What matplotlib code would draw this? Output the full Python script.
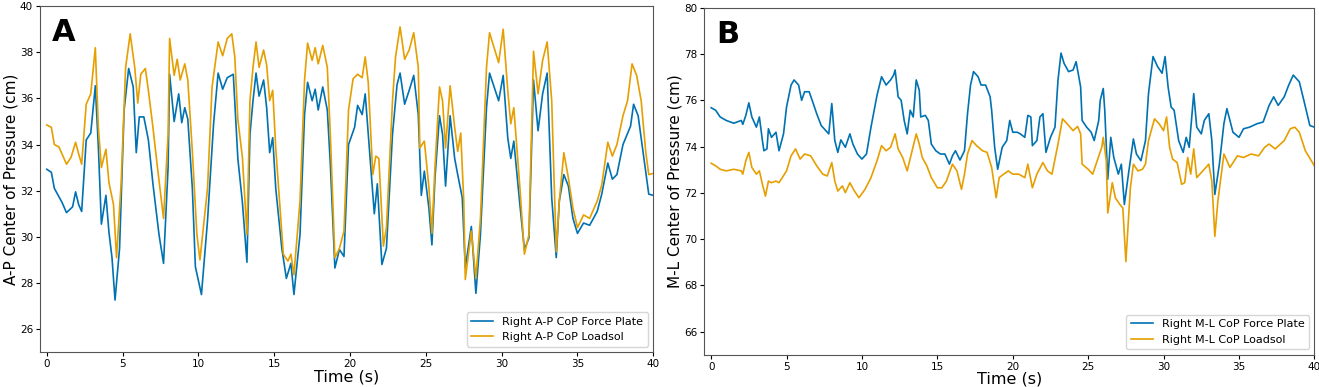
import matplotlib.pyplot as plt

# Panel A: anterior-posterior CoP (cm)
t_ap_fp = [0, 0.3, 0.5, 1, 1.3, 1.7, 1.9, 2.1, 2.3, 2.6, 2.9, 3.2, 3.4, 3.6, 3.9, 4.1, 4.3, 4.5, 4.8,
           5.1, 5.4, 5.7, 5.9, 6.1, 6.4, 6.7, 7.0, 7.4, 7.7, 8.0, 8.1, 8.4, 8.7, 8.9, 9.1, 9.3, 9.6,
           9.8, 10.2, 10.6, 11.0, 11.3, 11.6, 11.9, 12.3, 12.6, 12.9, 13.2, 13.4, 13.6, 13.8, 14.0,
           14.3, 14.5, 14.7, 14.9, 15.1, 15.5, 15.8, 16.1, 16.3, 16.7, 17.0, 17.2, 17.5, 17.7, 17.9,
           18.2, 18.5, 18.7, 19.0, 19.3, 19.6, 19.9, 20.3, 20.5, 20.8, 21.0, 21.3, 21.6, 21.8, 22.1,
           22.4, 22.8, 23.1, 23.3, 23.6, 23.9, 24.2, 24.5, 24.7, 24.9, 25.2, 25.4, 25.6, 25.9, 26.1,
           26.3, 26.6, 26.9, 27.1, 27.4, 27.6, 28.0, 28.3, 28.6, 29.0, 29.2, 29.5, 29.8, 30.1, 30.4,
           30.6, 30.8, 31.2, 31.5, 31.8, 32.1, 32.4, 32.7, 33.0, 33.3, 33.6, 33.8, 34.1, 34.4, 34.7,
           35.0, 35.4, 35.8, 36.3, 36.6, 37.0, 37.3, 37.6, 38.0, 38.5, 38.7, 39.0, 39.4, 39.7, 40]
ap_fp = [32.93, 32.8, 32.1, 31.5, 31.05, 31.3, 31.95, 31.4, 31.1, 34.2, 34.5, 36.55, 33.9, 30.55,
         31.8, 30.2, 29.1, 27.26, 29.5, 35.5, 37.3, 36.5, 33.65, 35.2, 35.2, 34.2, 32.3, 30.1, 28.85,
         33.0, 37.05, 35.0, 36.2, 34.95, 35.6, 35.1, 32.1, 28.7, 27.5, 30.7, 34.9, 37.1, 36.4, 36.9,
         37.05, 33.4, 31.5, 28.9, 34.45, 35.9, 37.1, 36.1, 36.8, 35.6, 33.65, 34.3, 32.1, 29.5, 28.2,
         28.85, 27.5, 30.1, 35.3, 36.7, 35.9, 36.4, 35.5, 36.5, 35.5, 33.15, 28.65, 29.45, 29.15,
         34.0, 34.75, 35.7, 35.3, 36.2, 33.6, 31.0, 32.3, 28.8, 29.5, 34.45, 36.6, 37.1, 35.75, 36.35,
         37.0, 35.3, 31.8, 32.85, 31.25, 29.65, 32.55, 35.25, 34.45, 32.2, 35.25, 33.4, 32.7, 31.7,
         28.65, 30.45, 27.55, 30.1, 35.6, 37.1, 36.5, 35.9, 37.0, 34.3, 33.4, 34.15, 31.4, 29.45,
         29.95, 36.8, 34.6, 36.2, 37.1, 31.7, 29.1, 31.55, 32.7, 32.2, 30.8, 30.15, 30.6, 30.5, 31.1,
         31.85, 33.2, 32.5, 32.7, 34.0, 34.8, 35.75, 35.25, 33.3, 31.85, 31.8]

t_ap_ls = [0, 0.3, 0.5, 0.8, 1.0, 1.3, 1.6, 1.9, 2.1, 2.3, 2.6, 2.9, 3.2, 3.4, 3.6, 3.9, 4.1, 4.4, 4.6,
           4.9, 5.2, 5.5, 5.8, 6.0, 6.2, 6.5, 6.7, 7.0, 7.3, 7.7, 8.0, 8.1, 8.4, 8.6, 8.8, 9.1, 9.3,
           9.6, 9.9, 10.1, 10.6, 10.9, 11.3, 11.6, 11.9, 12.2, 12.4, 12.6, 12.9, 13.2, 13.4, 13.6,
           13.8, 14.0, 14.3, 14.5, 14.7, 14.9, 15.1, 15.6, 15.9, 16.1, 16.3, 16.7, 17.0, 17.2, 17.5,
           17.7, 17.9, 18.2, 18.5, 18.7, 19.0, 19.3, 19.6, 19.9, 20.2, 20.5, 20.8, 21.0, 21.2, 21.5,
           21.7, 21.9, 22.2, 22.4, 22.8, 23.0, 23.3, 23.6, 23.9, 24.2, 24.5, 24.6, 24.9, 25.2, 25.4,
           25.6, 25.9, 26.1, 26.3, 26.6, 26.9, 27.1, 27.3, 27.5, 27.6, 28.0, 28.3, 28.6, 29.0, 29.2,
           29.5, 29.8, 30.1, 30.4, 30.6, 30.8, 31.2, 31.5, 31.8, 32.1, 32.4, 32.7, 33.0, 33.3, 33.6,
           33.8, 34.1, 34.4, 34.7, 35.0, 35.4, 35.8, 36.3, 36.6, 37.0, 37.3, 37.6, 38.0, 38.3, 38.6,
           38.9, 39.2, 39.5, 39.7, 40]
ap_ls = [34.85, 34.75, 34.0, 33.9, 33.6, 33.15, 33.45, 34.1, 33.6, 33.15, 35.75, 36.2, 38.2, 34.75,
         33.0, 33.8, 32.35, 31.4, 29.1, 32.3, 37.35, 38.8, 37.35, 35.8, 37.05, 37.3, 36.35, 34.75,
         33.0, 30.8, 34.45, 38.6, 37.0, 37.7, 36.8, 37.5, 36.8, 33.7, 30.1, 29.0, 32.1, 36.5, 38.45,
         37.85, 38.6, 38.8, 37.8, 35.1, 33.45, 30.1, 35.9, 37.35, 38.45, 37.35, 38.1, 37.45, 35.9,
         36.35, 33.85, 29.25, 28.95, 29.25, 28.35, 31.55, 36.8, 38.4, 37.65, 38.2, 37.5, 38.3, 37.35,
         34.45, 29.1, 29.5, 30.25, 35.5, 36.85, 37.05, 36.9, 37.8, 36.7, 32.7, 33.5, 33.4, 29.6, 30.4,
         35.9, 37.8, 39.1, 37.7, 38.1, 38.85, 37.35, 33.85, 34.15, 32.15, 30.15, 33.0, 36.5, 35.9,
         33.85, 36.55, 34.75, 33.7, 34.5, 31.55, 28.15, 30.25, 28.2, 30.8, 37.35, 38.85, 38.2, 37.55,
         39.0, 36.35, 34.9, 35.6, 32.15, 29.25, 30.1, 38.05, 36.2, 37.65, 38.45, 35.9, 29.35, 31.55,
         33.65, 32.55, 31.25, 30.4, 30.95, 30.8, 31.55, 32.25, 34.1, 33.5, 34.0, 35.25, 35.9, 37.5,
         37.0, 35.9, 33.7, 32.7, 32.75]

# Panel B: medial-lateral CoP (cm)
t_ml_fp = [0, 0.3, 0.6, 1.0, 1.5, 2.0, 2.1, 2.3, 2.5, 2.7, 3.0, 3.2, 3.4, 3.5, 3.7, 3.8, 4.0, 4.3, 4.5,
           4.8, 5.0, 5.3, 5.5, 5.8, 6.0, 6.2, 6.5, 6.7, 7.0, 7.3, 7.6, 7.8, 8.0, 8.2, 8.4, 8.6, 8.9,
           9.2, 9.4, 9.7, 10.0, 10.3, 10.6, 11.0, 11.3, 11.6, 11.9, 12.1, 12.2, 12.4, 12.6, 12.8, 13.0,
           13.2, 13.4, 13.6, 13.8, 13.9, 14.2, 14.4, 14.6, 14.9, 15.2, 15.5, 15.8, 16.0, 16.2, 16.5,
           16.8, 17.0, 17.2, 17.4, 17.7, 17.9, 18.2, 18.5, 18.6, 18.8, 19.0, 19.3, 19.6, 19.8, 20.0,
           20.3, 20.5, 20.8, 21.0, 21.2, 21.3, 21.6, 21.8, 22.0, 22.2, 22.5, 22.8, 23.0, 23.2, 23.4,
           23.7, 24.0, 24.2, 24.5, 24.6, 24.9, 25.2, 25.4, 25.7, 25.8, 26.0, 26.1, 26.3, 26.5, 26.7,
           27.0, 27.2, 27.4, 27.7, 28.0, 28.2, 28.5, 28.8, 29.0, 29.3, 29.6, 29.9, 30.1, 30.3, 30.5,
           30.7, 31.0, 31.3, 31.5, 31.7, 32.0, 32.2, 32.5, 32.7, 33.0, 33.2, 33.4, 33.7, 34.0, 34.2,
           34.6, 35.0, 35.3, 35.7, 36.2, 36.6, 37.0, 37.3, 37.6, 38.0, 38.3, 38.6, 39.0, 39.3, 39.7, 40]
ml_fp = [75.68, 75.57, 75.28, 75.13, 75.01, 75.13, 74.96, 75.35, 75.89, 75.28, 74.84, 75.28, 74.26,
         73.82, 73.9, 74.77, 74.4, 74.62, 73.82, 74.55, 75.71, 76.66, 76.88, 76.66, 76.0, 76.37,
         76.37, 76.0, 75.42, 74.91, 74.69, 74.55, 75.86, 74.26, 73.75, 74.29, 73.97, 74.55, 74.11,
         73.68, 73.46, 73.68, 74.84, 76.22, 77.02, 76.66, 76.88, 77.09, 77.31, 76.15, 76.0, 75.13,
         74.55, 75.57, 75.28, 76.88, 76.44, 75.28, 75.35, 75.13, 74.11, 73.82, 73.68, 73.68, 73.24,
         73.6, 73.82, 73.42, 73.82, 75.42, 76.66, 77.24, 77.02, 76.66, 76.66, 76.15, 75.57, 73.97,
         73.02, 73.97, 74.26, 75.13, 74.62, 74.62, 74.55, 74.4, 75.35, 75.28, 74.04, 74.26, 75.28,
         75.42, 73.75, 74.4, 74.84, 76.88, 78.04, 77.6, 77.24, 77.31, 77.67, 76.58, 75.13, 74.84,
         74.62, 74.26, 75.13, 76.0, 76.51, 75.57, 72.59, 74.4, 73.53, 72.81, 73.24, 71.5, 72.95,
         74.33, 73.68, 73.39, 74.26, 76.29, 77.89, 77.46, 77.17, 77.89, 76.58, 75.71, 75.57, 74.26,
         73.75, 74.4, 73.97, 76.29, 74.84, 74.55, 75.13, 75.42, 74.26, 71.93, 73.24, 74.99, 75.64,
         74.62, 74.4, 74.77, 74.84, 74.99, 75.06, 75.78, 76.15, 75.78, 76.15, 76.66, 77.09, 76.8,
         76.0, 74.91, 74.84]

t_ml_ls = [0, 0.3, 0.6, 1.0, 1.5, 2.0, 2.1, 2.3, 2.5, 2.7, 3.0, 3.2, 3.4, 3.6, 3.8, 4.0, 4.3, 4.5, 5.0,
           5.3, 5.6, 5.9, 6.2, 6.6, 7.0, 7.4, 7.7, 8.0, 8.2, 8.4, 8.7, 8.9, 9.2, 9.5, 9.8, 10.2, 10.6,
           11.0, 11.3, 11.6, 11.9, 12.2, 12.4, 12.7, 13.0, 13.3, 13.6, 13.8, 14.0, 14.3, 14.6, 15.0,
           15.3, 15.6, 16.0, 16.3, 16.6, 16.8, 17.0, 17.3, 17.6, 18.0, 18.3, 18.6, 18.9, 19.1, 19.4,
           19.7, 20.0, 20.4, 20.8, 21.0, 21.3, 21.6, 22.0, 22.3, 22.6, 23.0, 23.3, 23.6, 24.0, 24.3,
           24.5, 24.6, 25.0, 25.3, 25.6, 25.9, 26.0, 26.2, 26.3, 26.6, 26.8, 27.1, 27.3, 27.5, 27.8,
           28.0, 28.3, 28.6, 28.8, 29.0, 29.4, 29.7, 30.0, 30.2, 30.4, 30.6, 30.9, 31.2, 31.4, 31.6,
           31.8, 32.0, 32.2, 32.6, 33.0, 33.2, 33.4, 33.6, 34.0, 34.4, 34.9, 35.3, 35.8, 36.3, 36.7,
           37.0, 37.4, 38.0, 38.4, 38.7, 39.0, 39.4, 39.8, 40]
ml_ls = [73.28, 73.17, 73.02, 72.95, 73.02, 72.95, 72.81, 73.39, 73.75, 73.1, 72.81, 72.95, 72.37,
         71.86, 72.51, 72.44, 72.51, 72.44, 72.95, 73.6, 73.9, 73.46, 73.68, 73.6, 73.17, 72.81,
         72.73, 73.31, 72.51, 72.08, 72.3, 72.01, 72.44, 72.08, 71.79, 72.15, 72.66, 73.39, 74.04,
         73.82, 73.97, 74.55, 73.9, 73.53, 72.95, 73.75, 74.55, 74.11, 73.53, 73.17, 72.66, 72.22,
         72.22, 72.51, 73.24, 72.95, 72.15, 72.81, 73.68, 74.26, 74.04, 73.82, 73.75, 73.1, 71.79,
         72.66, 72.81, 72.95, 72.81, 72.81, 72.66, 73.24, 72.22, 72.81, 73.31, 72.95, 72.81, 74.11,
         75.2, 74.99, 74.69, 74.87, 74.55, 73.24, 73.02, 72.81, 73.39, 73.97, 74.4, 73.39, 71.13,
         72.44, 71.79, 71.5, 71.35, 69.03, 72.22, 73.24, 72.95, 73.02, 73.24, 74.26, 75.2, 74.99,
         74.69, 75.28, 73.97, 73.46, 73.31, 72.37, 72.44, 73.53, 72.81, 73.9, 72.66, 72.95, 73.24,
         72.51, 70.12, 71.64, 73.68, 73.1, 73.6, 73.53, 73.68, 73.6, 73.97, 74.11, 73.9, 74.26,
         74.77, 74.84, 74.62, 73.82, 73.39, 73.17]

blue = '#0072B2'
orange = '#E69F00'

fig = plt.figure(figsize=(13.19, 3.87), dpi=100)
axA = fig.add_axes([0.0303, 0.090, 0.465, 0.894])
axB = fig.add_axes([0.534, 0.083, 0.4625, 0.897])

panels = [
    (axA, t_ap_fp, ap_fp, t_ap_ls, ap_ls, 'A-P', (25, 40), 'A'),
    (axB, t_ml_fp, ml_fp, t_ml_ls, ml_ls, 'M-L', (65, 80), 'B'),
]
for ax, t1, y1, t2, y2, lab, ylim, letter in panels:
    ax.plot(t1, y1, color=blue, lw=1.2, label='Right %s CoP Force Plate' % lab)
    ax.plot(t2, y2, color=orange, lw=1.2, label='Right %s CoP Loadsol' % lab)
    ax.set_xlim(-0.45, 40)
    ax.set_ylim(*ylim)
    ax.set_xticks(range(0, 41, 5))
    ax.set_yticks(range(ylim[0] + 1, ylim[1] + 1, 2))
    ax.tick_params(labelsize=7.5, length=3, pad=2)
    ax.set_xlabel('Time (s)', fontsize=11.5, labelpad=0)
    ax.set_ylabel('%s Center of Pressure (cm)' % lab, fontsize=11, labelpad=1)
    ax.legend(loc='lower right', fontsize=8)
    ax.text(0.02, 0.965, letter, transform=ax.transAxes, fontsize=22,
            fontweight='heavy', va='top', ha='left')
    for s in ax.spines.values():
        s.set_color('#555555')

fig.savefig('out.png', dpi=100)
